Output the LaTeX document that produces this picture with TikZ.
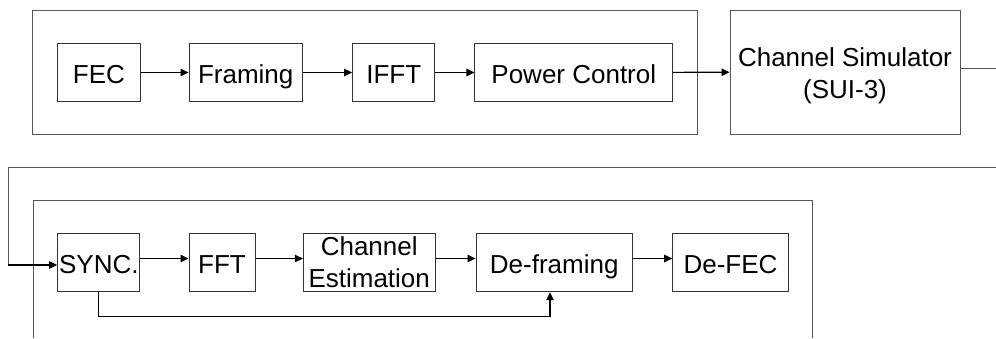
\documentclass[tikz,border=0pt]{standalone}
\usepackage{fontspec}
\setmainfont{Liberation Sans}
\usetikzlibrary{arrows.meta}
\definecolor{boxline}{HTML}{333333}
\definecolor{frameline}{HTML}{555555}
\tikzset{
  blk/.style={draw=boxline, line width=1pt, rectangle, inner sep=0pt, align=center,
    font=\fontsize{26}{32}\selectfont},
  blkone/.style={blk, text height=21.6pt, text depth=0pt},
  grp/.style={draw=frameline, line width=1pt, rectangle, inner sep=0pt},
  wire/.style={draw=frameline, line width=1pt},
  arr/.style={draw=black, line width=1.1pt, -{Triangle[length=8pt,width=7.5pt]}}
}
\begin{document}
\begin{tikzpicture}[x=1pt, y=-1pt]
  \useasboundingbox (0,0) rectangle (996,338);
  \clip (0,0) rectangle (996,338);

  % transmitter group and channel
  \node[grp, minimum width=664.7pt, minimum height=124pt] (tx) at (365.3,72) {};
  \node[blkone, minimum width=82.5pt, minimum height=58.4pt] (fec) at (98.9,72.5) {FEC};
  \node[blkone, minimum width=113.3pt, minimum height=58.4pt] (fram) at (245.7,72.5) {Framing};
  \node[blkone, minimum width=82.3pt, minimum height=58.4pt] (ifft) at (393.8,72.5) {IFFT};
  \node[blkone, minimum width=197.7pt, minimum height=58.4pt] (pc) at (573.8,72.5) {Power Control};
  \node[grp, minimum width=230pt, minimum height=124pt] (ch) at (845,72) {};
  \node[align=center, inner sep=0pt, font=\fontsize{26}{32.5}\selectfont] (chtxt) at ([yshift=-4pt]ch.center) {Channel Simulator\\(SUI-3)};

  \draw[arr] (fec) -- (fram);
  \draw[arr] (fram) -- (ifft);
  \draw[arr] (ifft) -- (pc);
  \draw[arr] (pc) -- (ch);

  % receiver group
  \coordinate (rxbl) at (33,338);
  \coordinate (rxbr) at (812,338);
  \draw[wire] (rxbl) -- (33,200.7) -- (812,200.7) -- (rxbr);

  \node[blkone, minimum width=82.3pt, minimum height=58.4pt] (sync) at (98.8,262.5) {SYNC.};
  \node[blkone, minimum width=66pt, minimum height=58.4pt] (fft) at (222,262.5) {FFT};
  \node[blk, minimum width=131.7pt, minimum height=58.4pt] (est) at (369.2,262.5) {Channel\\Estimation};
  \node[blkone, minimum width=156.3pt, minimum height=58.4pt] (defr) at (554.2,262.5) {De-framing};
  \node[blkone, minimum width=115.6pt, minimum height=58.4pt] (defec) at (730.5,262.5) {De-FEC};

  \draw[arr] ([yshift=4pt]sync.east) -- ([yshift=4pt]fft.west);
  \draw[arr] ([yshift=4pt]fft.east) -- ([yshift=4pt]est.west);
  \draw[arr] ([yshift=4pt]est.east) -- ([yshift=4pt]defr.west);
  \draw[arr] ([yshift=4pt]defr.east) -- ([yshift=4pt]defec.west);

  % timing path from SYNC. to De-framing
  \draw[arr] (sync.south) -- ++(0,24.3) -| ([xshift=-4.2pt]defr.south);

  % channel output wrapped around to the receiver
  \coordinate (wrapR) at (996,167);
  \coordinate (chout) at (996,68.3);
  \draw[wire] ([yshift=3.7pt]ch.east) -- (chout);
  \draw[wire] (wrapR) -- (8,167) -- (8,265);
  \draw[arr] (8,265) -- ([yshift=-2.5pt]sync.west);
\end{tikzpicture}
\end{document}
